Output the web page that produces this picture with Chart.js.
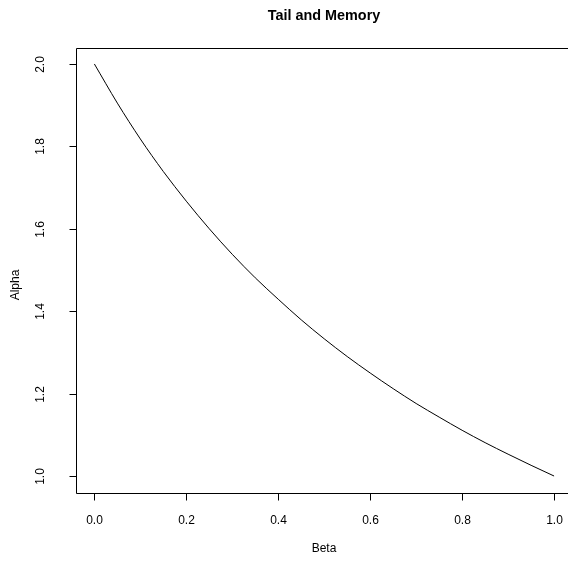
<!DOCTYPE html>
<html>
<head>
<meta charset="utf-8">
<script src="https://cdn.jsdelivr.net/npm/chart.js@4.4.1/dist/chart.umd.min.js"></script>
<style>
  html, body { margin: 0; padding: 0; background: #fff; overflow: hidden; }
  #wrap { width: 568px; height: 565px; }
</style>
</head>
<body>
<div id="wrap"><canvas id="chart" width="568" height="565"></canvas></div>
<script>
// values
const beta = [0, 0.05, 0.1, 0.15, 0.2, 0.25, 0.3, 0.35, 0.4, 0.45, 0.5,
              0.55, 0.6, 0.65, 0.7, 0.75, 0.8, 0.85, 0.9, 0.95, 1.0];
const alpha = [2.0, 1.905, 1.818, 1.739, 1.667, 1.6, 1.538, 1.481, 1.429, 1.379, 1.333,
               1.29, 1.25, 1.212, 1.176, 1.143, 1.111, 1.081, 1.053, 1.026, 1.0];
const xTicks = [0, 0.2, 0.4, 0.6, 0.8, 1.0];
const yTicks = [1.0, 1.2, 1.4, 1.6, 1.8, 2.0];

const FONT = "Liberation Sans, Arial, Helvetica, sans-serif";

const rDecor = {
  id: "rDecor",
  afterDraw(chart) {
    const { ctx, chartArea: a, scales } = chart;
    ctx.save();
    ctx.strokeStyle = "#000";
    ctx.fillStyle = "#000";
    ctx.lineWidth = 1;
    // plot box: its right side falls just outside the window in the reference
    const l = Math.round(a.left) + 0.5, t = Math.round(a.top) + 0.5, b = Math.round(a.bottom) + 0.5;
    ctx.beginPath();
    ctx.moveTo(chart.width + 5, t);
    ctx.lineTo(l, t);
    ctx.lineTo(l, b);
    ctx.lineTo(chart.width + 5, b);
    ctx.stroke();

    ctx.font = "12px " + FONT;
    ctx.textAlign = "center";
    ctx.textBaseline = "middle";
    xTicks.forEach((v) => {
      const x = Math.round(scales.x.getPixelForValue(v)) + 0.5;
      ctx.beginPath();
      ctx.moveTo(x, b);
      ctx.lineTo(x, b + 7);
      ctx.stroke();
      ctx.fillText(v.toFixed(1), x, 521);
    });
    yTicks.forEach((v) => {
      const y = Math.round(scales.y.getPixelForValue(v)) + 0.5;
      ctx.beginPath();
      ctx.moveTo(l, y);
      ctx.lineTo(l - 7, y);
      ctx.stroke();
      ctx.save();
      ctx.translate(41, y);
      ctx.rotate(-Math.PI / 2);
      ctx.fillText(v.toFixed(1), 0, 0);
      ctx.restore();
    });

    ctx.fillText("Beta", 324, 549);
    ctx.save();
    ctx.translate(16, 285);
    ctx.rotate(-Math.PI / 2);
    ctx.fillText("Alpha", 0, 0);
    ctx.restore();

    ctx.font = "bold 14.4px " + FONT;
    ctx.fillText("Tail and Memory", 324, 16);
    ctx.restore();
  },
};

new Chart(document.getElementById("chart"), {
  type: "line",
  data: {
    datasets: [{
      data: beta.map((v, i) => ({ x: v, y: alpha[i] })),
      borderColor: "#000",
      borderWidth: 1,
      pointRadius: 0,
      fill: false,
      cubicInterpolationMode: "monotone",
    }],
  },
  options: {
    responsive: false,
    animation: false,
    layout: { padding: { top: 47.5, right: 0, left: 0, bottom: 0 } },
    scales: {
      x: {
        type: "linear",
        min: -0.04,
        max: 1.0303,
        grid: { display: false },
        border: { display: false },
        ticks: { display: false },
        afterFit: (s) => { s.height = 72.5; },
      },
      y: {
        type: "linear",
        min: 0.96,
        max: 2.04,
        grid: { display: false },
        border: { display: false },
        ticks: { display: false },
        afterFit: (s) => { s.width = 76; },
      },
    },
    plugins: { legend: { display: false }, tooltip: { enabled: false } },
  },
  plugins: [rDecor],
});
</script>
</body>
</html>
